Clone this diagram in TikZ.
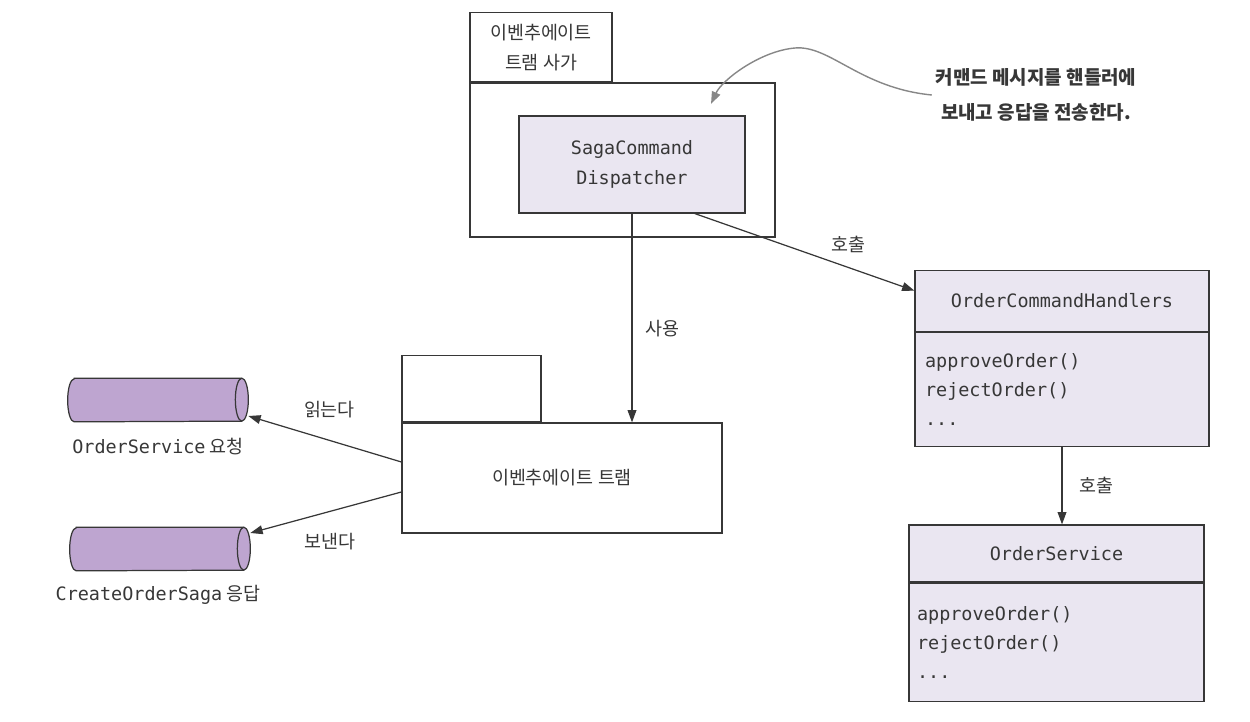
\documentclass[tikz,border=0pt]{standalone}
\usepackage{fontspec}
\setmainfont{Noto Sans CJK KR}
\setmonofont{DejaVu Sans Mono}
\usetikzlibrary{arrows.meta,calc}

\definecolor{linegray}{RGB}{55,55,55}
\definecolor{boxfill}{RGB}{234,230,241}
\definecolor{tubefill}{RGB}{190,165,208}
\definecolor{notegray}{RGB}{135,135,135}

\tikzset{
  pkg/.style={draw=linegray,line width=0.7pt,fill=white,inner sep=0pt},
  cls/.style={draw=linegray,line width=0.7pt,fill=boxfill,inner sep=0pt},
  tube/.style={minimum width=3.6cm,minimum height=0.86cm,inner sep=0pt},
  tubeline/.style={draw=linegray,line width=0.7pt},
  conn/.style={draw=linegray,line width=0.7pt,-{Triangle[length=7pt,width=5pt]}},
  lbl/.style={text=linegray,font=\fontsize{10.5}{17}\selectfont},
  code/.style={text=linegray,font=\ttfamily\fontsize{10.5}{16.5}\selectfont},
}

\begin{document}
\begin{tikzpicture}[x=0.02cm,y=-0.02cm]
\useasboundingbox (0,0) rectangle (1250,722);

% 사가 패키지
\node[pkg,minimum width=6.1cm,minimum height=3.08cm] (saga) at (622.5,160) {};
\node[pkg,minimum width=2.84cm,minimum height=1.38cm,anchor=south west,lbl,align=center] (sagatab) at (saga.north west) {이벤추에이트\\트램 사가};
\node[cls,minimum width=4.52cm,minimum height=1.94cm,code,align=center,font=\ttfamily\fontsize{10.5}{17.5}\selectfont] (disp) at (632,164.5) {SagaCommand\\Dispatcher};

% 설명
\node[lbl,font=\bfseries\fontsize{10.8}{20}\selectfont,align=center,inner sep=2pt] (note) at (1036,95) {커맨드 메시지를 핸들러에\\보내고 응답을 전송한다.};
\coordinate (tip) at (711,104);
\draw[notegray,line width=0.8pt,-{Triangle[length=7pt,width=5pt]}] (note.west) .. controls (860,88) and (830,45) .. (795,48) .. controls (760,51) and (722,80) .. (tip);

% 트램 패키지
\node[pkg,minimum width=6.4cm,minimum height=2.2cm,lbl] (tram) at (562,478) {이벤추에이트 트램};
\node[pkg,minimum width=2.78cm,minimum height=1.32cm,anchor=south west] (tramtab) at (tram.north west) {};

% 채널
\node[tube] (req) at (158,400) {};
\node[lbl] (reqlbl) at (158,447) {{\ttfamily OrderService} 요청};
\node[tube] (rep) at (160,549) {};
\node[lbl] (replbl) at (158,595) {{\ttfamily CreateOrderSaga} 응답};
\foreach \t in {req,rep} {
  \draw[tubeline,fill=tubefill] ([xshift=0.13cm]\t.north west) -- ([xshift=-0.13cm]\t.north east)
    arc[start angle=90,end angle=-90,x radius=0.13cm,y radius=0.43cm]
    -- ([xshift=0.13cm]\t.south west)
    arc[start angle=270,end angle=90,x radius=0.13cm,y radius=0.43cm] -- cycle;
  \draw[tubeline] ([xshift=-0.13cm]\t.north east) arc[start angle=90,end angle=270,x radius=0.13cm,y radius=0.43cm];
}

% 핸들러 클래스
\node[cls,minimum width=5.88cm,minimum height=1.22cm,code] (ochead) at (1062,301) {OrderCommandHandlers};
\node[cls,minimum width=5.88cm,minimum height=2.28cm,anchor=north,code,align=left,text width=5.48cm] (ocbody) at (ochead.south) {approveOrder()\\rejectOrder()\\...};

% 서비스 클래스
\node[cls,minimum width=5.9cm,minimum height=1.14cm,code] (oshead) at (1056.5,553.5) {OrderService};
\node[cls,minimum width=5.9cm,minimum height=2.36cm,anchor=north,code,align=left,text width=5.58cm] (osbody) at (oshead.south) {approveOrder()\\rejectOrder()\\...};

% 연결
\draw[conn] (disp.south) -- (disp.south |- tram.north) node[lbl,pos=0.55,right=4pt] {사용};
\draw[conn] (disp.-38) -- (ochead.176) node[lbl,pos=0.7,above=5pt] {호출};
\draw[conn] ($(tram.west)+(0,-16)$) -- ($(req.east)+(0,16)$) node[lbl,pos=0.47,above=9pt] {읽는다};
\draw[conn] ($(tram.west)+(0,14)$) -- ($(rep.east)+(0,-16)$) node[lbl,pos=0.47,below=9pt] {보낸다};
\draw[conn] (ocbody.south) -- (ocbody.south |- oshead.north) node[lbl,midway,right=6pt] {호출};
\end{tikzpicture}
\end{document}
